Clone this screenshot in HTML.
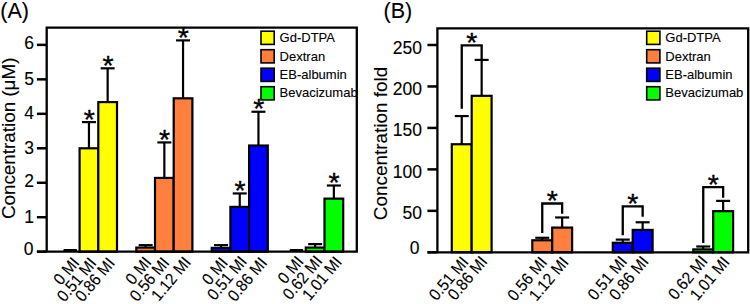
<!DOCTYPE html>
<html><head><meta charset="utf-8"><style>
html,body{margin:0;padding:0;background:#fff;width:750px;height:304px;overflow:hidden}
svg{display:block}
text{font-family:"Liberation Sans", sans-serif;fill:#000;stroke:#000;stroke-width:0.12px}
</style></head><body>
<svg width="750" height="304" viewBox="0 0 750 304">
<rect width="750" height="304" fill="#fff"/>
<line x1="36.9" y1="251.7" x2="46.7" y2="251.7" stroke="#000" stroke-width="2.5" stroke-linecap="butt"/>
<text x="33.5" y="254.9" font-size="17.5" text-anchor="end">0</text>
<line x1="36.9" y1="217.23" x2="46.7" y2="217.23" stroke="#000" stroke-width="2.5" stroke-linecap="butt"/>
<text x="34.0" y="223.43" font-size="17.5" text-anchor="end">1</text>
<line x1="36.9" y1="182.76" x2="46.7" y2="182.76" stroke="#000" stroke-width="2.5" stroke-linecap="butt"/>
<text x="34.0" y="187.46" font-size="17.5" text-anchor="end">2</text>
<line x1="36.9" y1="148.29" x2="46.7" y2="148.29" stroke="#000" stroke-width="2.5" stroke-linecap="butt"/>
<text x="34.0" y="153.99" font-size="17.5" text-anchor="end">3</text>
<line x1="36.9" y1="113.82" x2="46.7" y2="113.82" stroke="#000" stroke-width="2.5" stroke-linecap="butt"/>
<text x="34.0" y="119.02" font-size="17.5" text-anchor="end">4</text>
<line x1="36.9" y1="79.35" x2="46.7" y2="79.35" stroke="#000" stroke-width="2.5" stroke-linecap="butt"/>
<text x="34.0" y="85.05" font-size="17.5" text-anchor="end">5</text>
<line x1="36.9" y1="44.879999999999995" x2="46.7" y2="44.879999999999995" stroke="#000" stroke-width="2.5" stroke-linecap="butt"/>
<text x="34.0" y="49.08" font-size="17.5" text-anchor="end">6</text>
<text x="0.3" y="18.1" font-size="21.5" text-anchor="start">(A)</text>
<text x="0" y="0" font-size="18.5" textLength="161.5" lengthAdjust="spacingAndGlyphs" transform="translate(14.6 219.1) rotate(-90)">Concentration (&#956;M)</text>
<rect x="63.4" y="248.89999999999998" width="13.7" height="3" rx="1" fill="#000"/>
<line x1="88.94999999999999" y1="148.29" x2="88.94999999999999" y2="122.09280000000001" stroke="#000" stroke-width="2.2" stroke-linecap="butt"/>
<line x1="81.94999999999999" y1="122.09280000000001" x2="95.94999999999999" y2="122.09280000000001" stroke="#000" stroke-width="2.2" stroke-linecap="butt"/>
<rect x="79.6" y="148.29" width="18.7" height="103.41" fill="#ffff00" stroke="#000" stroke-width="2.2"/>
<text x="89.24999999999999" y="128.67" font-size="28.5" text-anchor="middle" style="stroke-width:0.35px">*</text>
<line x1="107.64999999999999" y1="102.1002" x2="107.64999999999999" y2="68.31959999999998" stroke="#000" stroke-width="2.2" stroke-linecap="butt"/>
<line x1="100.64999999999999" y1="68.31959999999998" x2="114.64999999999999" y2="68.31959999999998" stroke="#000" stroke-width="2.2" stroke-linecap="butt"/>
<rect x="98.3" y="102.1002" width="18.7" height="149.5998" fill="#ffff00" stroke="#000" stroke-width="2.2"/>
<text x="107.94999999999999" y="74.89" font-size="28.5" text-anchor="middle" style="stroke-width:0.35px">*</text>
<line x1="145.65" y1="247.56359999999998" x2="145.65" y2="245.1507" stroke="#000" stroke-width="2.2" stroke-linecap="butt"/>
<line x1="138.65" y1="245.1507" x2="152.65" y2="245.1507" stroke="#000" stroke-width="2.2" stroke-linecap="butt"/>
<rect x="136.3" y="247.56359999999998" width="18.7" height="4.136400000000009" fill="#ff7f3f" stroke="#000" stroke-width="2.2"/>
<line x1="164.35" y1="177.93419999999998" x2="164.35" y2="142.43009999999998" stroke="#000" stroke-width="2.2" stroke-linecap="butt"/>
<line x1="157.35" y1="142.43009999999998" x2="171.35" y2="142.43009999999998" stroke="#000" stroke-width="2.2" stroke-linecap="butt"/>
<rect x="155.0" y="177.93419999999998" width="18.7" height="73.76580000000001" fill="#ff7f3f" stroke="#000" stroke-width="2.2"/>
<text x="164.65" y="149.01" font-size="28.5" text-anchor="middle" style="stroke-width:0.35px">*</text>
<line x1="183.05" y1="98.30849999999998" x2="183.05" y2="40.3989" stroke="#000" stroke-width="2.2" stroke-linecap="butt"/>
<line x1="176.05" y1="40.3989" x2="190.05" y2="40.3989" stroke="#000" stroke-width="2.2" stroke-linecap="butt"/>
<rect x="173.70000000000002" y="98.30849999999998" width="18.7" height="153.3915" fill="#ff7f3f" stroke="#000" stroke-width="2.2"/>
<text x="183.35000000000002" y="46.97" font-size="28.5" text-anchor="middle" style="stroke-width:0.35px">*</text>
<line x1="221.05" y1="247.9083" x2="221.05" y2="245.1507" stroke="#000" stroke-width="2.2" stroke-linecap="butt"/>
<line x1="214.05" y1="245.1507" x2="228.05" y2="245.1507" stroke="#000" stroke-width="2.2" stroke-linecap="butt"/>
<rect x="211.70000000000002" y="247.9083" width="18.7" height="3.7916999999999916" fill="#0000ff" stroke="#000" stroke-width="2.2"/>
<line x1="239.75" y1="206.88899999999998" x2="239.75" y2="193.4457" stroke="#000" stroke-width="2.2" stroke-linecap="butt"/>
<line x1="232.75" y1="193.4457" x2="246.75" y2="193.4457" stroke="#000" stroke-width="2.2" stroke-linecap="butt"/>
<rect x="230.4" y="206.88899999999998" width="18.7" height="44.81100000000001" fill="#0000ff" stroke="#000" stroke-width="2.2"/>
<text x="240.05" y="200.02" font-size="28.5" text-anchor="middle" style="stroke-width:0.35px">*</text>
<line x1="258.45000000000005" y1="145.5324" x2="258.45000000000005" y2="111.7518" stroke="#000" stroke-width="2.2" stroke-linecap="butt"/>
<line x1="251.45000000000005" y1="111.7518" x2="265.45000000000005" y2="111.7518" stroke="#000" stroke-width="2.2" stroke-linecap="butt"/>
<rect x="249.10000000000002" y="145.5324" width="18.7" height="106.1676" fill="#0000ff" stroke="#000" stroke-width="2.2"/>
<text x="258.75000000000006" y="118.33" font-size="28.5" text-anchor="middle" style="stroke-width:0.35px">*</text>
<rect x="289.6" y="248.89999999999998" width="13.7" height="3" rx="1" fill="#000"/>
<line x1="315.15000000000003" y1="247.56359999999998" x2="315.15000000000003" y2="244.11659999999998" stroke="#000" stroke-width="2.2" stroke-linecap="butt"/>
<line x1="308.15000000000003" y1="244.11659999999998" x2="322.15000000000003" y2="244.11659999999998" stroke="#000" stroke-width="2.2" stroke-linecap="butt"/>
<rect x="305.8" y="247.56359999999998" width="18.7" height="4.136400000000009" fill="#00ff00" stroke="#000" stroke-width="2.2"/>
<line x1="333.85" y1="198.6162" x2="333.85" y2="185.5176" stroke="#000" stroke-width="2.2" stroke-linecap="butt"/>
<line x1="326.85" y1="185.5176" x2="340.85" y2="185.5176" stroke="#000" stroke-width="2.2" stroke-linecap="butt"/>
<rect x="324.5" y="198.6162" width="18.7" height="53.0838" fill="#00ff00" stroke="#000" stroke-width="2.2"/>
<text x="334.15000000000003" y="192.09" font-size="28.5" text-anchor="middle" style="stroke-width:0.35px">*</text>
<path d="M46.7 251.7 V27.6 H356.8 V251.7 H36.900000000000006" fill="none" stroke="#000" stroke-width="2.3" stroke-linejoin="miter"/>
<rect x="261.0" y="31.2" width="13.2" height="13.2" fill="#ffff00" stroke="#000" stroke-width="1.6"/>
<text x="279.6" y="42.3" font-size="13.0" text-anchor="start" stroke="#000" stroke-width="0.15">Gd-DTPA</text>
<rect x="261.0" y="49.7" width="13.2" height="13.2" fill="#ff7f3f" stroke="#000" stroke-width="1.6"/>
<text x="279.6" y="60.6" font-size="13.0" text-anchor="start" stroke="#000" stroke-width="0.15">Dextran</text>
<rect x="261.0" y="68.2" width="13.2" height="13.2" fill="#0000ff" stroke="#000" stroke-width="1.6"/>
<text x="279.6" y="78.9" font-size="13.0" text-anchor="start" stroke="#000" stroke-width="0.15">EB-albumin</text>
<rect x="261.0" y="86.7" width="13.2" height="13.2" fill="#00ff00" stroke="#000" stroke-width="1.6"/>
<text x="279.6" y="97.2" font-size="13.0" text-anchor="start" stroke="#000" stroke-width="0.15">Bevacizumab</text>
<text x="80.25" y="263.2" font-size="16.5" text-anchor="end" textLength="29.84" lengthAdjust="spacingAndGlyphs" transform="rotate(-50 80.25 263.2)">0 MI</text>
<text x="97.35" y="263.6" font-size="16.5" text-anchor="end" textLength="51.18" lengthAdjust="spacingAndGlyphs" transform="rotate(-50 97.35 263.6)">0.51 MI</text>
<text x="115.65" y="263.6" font-size="16.5" text-anchor="end" textLength="51.18" lengthAdjust="spacingAndGlyphs" transform="rotate(-50 115.65 263.6)">0.86 MI</text>
<text x="152.25" y="262.8" font-size="16.5" text-anchor="end" textLength="29.84" lengthAdjust="spacingAndGlyphs" transform="rotate(-50 152.25 262.8)">0 MI</text>
<text x="170.15" y="263.2" font-size="16.5" text-anchor="end" textLength="51.18" lengthAdjust="spacingAndGlyphs" transform="rotate(-50 170.15 263.2)">0.56 MI</text>
<text x="191.65" y="262.8" font-size="16.5" text-anchor="end" textLength="51.18" lengthAdjust="spacingAndGlyphs" transform="rotate(-50 191.65 262.8)">1.12 MI</text>
<text x="228.65" y="263.2" font-size="16.5" text-anchor="end" textLength="29.84" lengthAdjust="spacingAndGlyphs" transform="rotate(-50 228.65 263.2)">0 MI</text>
<text x="247.75" y="262.0" font-size="16.5" text-anchor="end" textLength="51.18" lengthAdjust="spacingAndGlyphs" transform="rotate(-50 247.75 262.0)">0.51 MI</text>
<text x="268.05" y="263.2" font-size="16.5" text-anchor="end" textLength="51.18" lengthAdjust="spacingAndGlyphs" transform="rotate(-50 268.05 263.2)">0.86 MI</text>
<text x="304.45" y="262.0" font-size="16.5" text-anchor="end" textLength="29.84" lengthAdjust="spacingAndGlyphs" transform="rotate(-50 304.45 262.0)">0 MI</text>
<text x="323.15" y="261.6" font-size="16.5" text-anchor="end" textLength="51.18" lengthAdjust="spacingAndGlyphs" transform="rotate(-50 323.15 261.6)">0.62 MI</text>
<text x="342.65" y="262.4" font-size="16.5" text-anchor="end" textLength="51.18" lengthAdjust="spacingAndGlyphs" transform="rotate(-50 342.65 262.4)">1.01 MI</text>
<line x1="427.4" y1="252.3" x2="437.4" y2="252.3" stroke="#000" stroke-width="2.5" stroke-linecap="butt"/>
<text x="419.5" y="254.3" font-size="17.5" text-anchor="end">0</text>
<line x1="427.4" y1="210.84" x2="437.4" y2="210.84" stroke="#000" stroke-width="2.5" stroke-linecap="butt"/>
<text x="422.0" y="219.34" font-size="17.5" text-anchor="end">50</text>
<line x1="427.4" y1="169.38" x2="437.4" y2="169.38" stroke="#000" stroke-width="2.5" stroke-linecap="butt"/>
<text x="422.0" y="177.88" font-size="17.5" text-anchor="end">100</text>
<line x1="427.4" y1="127.92" x2="437.4" y2="127.92" stroke="#000" stroke-width="2.5" stroke-linecap="butt"/>
<text x="422.0" y="136.42" font-size="17.5" text-anchor="end">150</text>
<line x1="427.4" y1="86.46000000000001" x2="437.4" y2="86.46000000000001" stroke="#000" stroke-width="2.5" stroke-linecap="butt"/>
<text x="422.0" y="94.96" font-size="17.5" text-anchor="end">200</text>
<line x1="427.4" y1="45.0" x2="437.4" y2="45.0" stroke="#000" stroke-width="2.5" stroke-linecap="butt"/>
<text x="422.0" y="53.5" font-size="17.5" text-anchor="end">250</text>
<text x="383.6" y="18.1" font-size="21.5" text-anchor="start">(B)</text>
<text x="0" y="0" font-size="18.5" textLength="153.4" lengthAdjust="spacingAndGlyphs" transform="translate(386.6 220.2) rotate(-90)">Concentration fold</text>
<line x1="461.75" y1="144.25524000000001" x2="461.75" y2="116.06243999999998" stroke="#000" stroke-width="2.2" stroke-linecap="butt"/>
<line x1="454.75" y1="116.06243999999998" x2="468.75" y2="116.06243999999998" stroke="#000" stroke-width="2.2" stroke-linecap="butt"/>
<rect x="451.8" y="144.25524000000001" width="19.9" height="108.04476" fill="#ffff00" stroke="#000" stroke-width="2.2"/>
<line x1="481.65" y1="95.82996" x2="481.65" y2="59.9256" stroke="#000" stroke-width="2.2" stroke-linecap="butt"/>
<line x1="474.65" y1="59.9256" x2="488.65" y2="59.9256" stroke="#000" stroke-width="2.2" stroke-linecap="butt"/>
<rect x="471.7" y="95.82996" width="19.9" height="156.47004" fill="#ffff00" stroke="#000" stroke-width="2.2"/>
<path d="M461.75 108.66 V45.4 H481.65 V59.43" fill="none" stroke="#000" stroke-width="2.3"/>
<text x="471.7" y="51.88" font-size="28.5" text-anchor="middle" style="stroke-width:0.35px">*</text>
<line x1="542.25" y1="240.2766" x2="542.25" y2="237.78900000000002" stroke="#000" stroke-width="2.2" stroke-linecap="butt"/>
<line x1="535.25" y1="237.78900000000002" x2="549.25" y2="237.78900000000002" stroke="#000" stroke-width="2.2" stroke-linecap="butt"/>
<rect x="532.3" y="240.2766" width="19.9" height="12.02340000000001" fill="#ff7f3f" stroke="#000" stroke-width="2.2"/>
<line x1="562.15" y1="227.58984" x2="562.15" y2="217.4736" stroke="#000" stroke-width="2.2" stroke-linecap="butt"/>
<line x1="555.15" y1="217.4736" x2="569.15" y2="217.4736" stroke="#000" stroke-width="2.2" stroke-linecap="butt"/>
<rect x="552.1999999999999" y="227.58984" width="19.9" height="24.710160000000002" fill="#ff7f3f" stroke="#000" stroke-width="2.2"/>
<path d="M542.25 232.99 V203.5 H562.15 V213.77" fill="none" stroke="#000" stroke-width="2.3"/>
<text x="552.2" y="209.97" font-size="28.5" text-anchor="middle" style="stroke-width:0.35px">*</text>
<line x1="622.75" y1="242.76420000000002" x2="622.75" y2="239.61324000000002" stroke="#000" stroke-width="2.2" stroke-linecap="butt"/>
<line x1="615.75" y1="239.61324000000002" x2="629.75" y2="239.61324000000002" stroke="#000" stroke-width="2.2" stroke-linecap="butt"/>
<rect x="612.8" y="242.76420000000002" width="19.9" height="9.535799999999995" fill="#0000ff" stroke="#000" stroke-width="2.2"/>
<line x1="642.65" y1="229.91160000000002" x2="642.65" y2="222.28296" stroke="#000" stroke-width="2.2" stroke-linecap="butt"/>
<line x1="635.65" y1="222.28296" x2="649.65" y2="222.28296" stroke="#000" stroke-width="2.2" stroke-linecap="butt"/>
<rect x="632.6999999999999" y="229.91160000000002" width="19.9" height="22.38839999999999" fill="#0000ff" stroke="#000" stroke-width="2.2"/>
<path d="M622.75 235.31 V206.3 H642.65 V216.78" fill="none" stroke="#000" stroke-width="2.3"/>
<text x="632.7" y="212.78" font-size="28.5" text-anchor="middle" style="stroke-width:0.35px">*</text>
<line x1="703.25" y1="249.39780000000002" x2="703.25" y2="246.49560000000002" stroke="#000" stroke-width="2.2" stroke-linecap="butt"/>
<line x1="696.25" y1="246.49560000000002" x2="710.25" y2="246.49560000000002" stroke="#000" stroke-width="2.2" stroke-linecap="butt"/>
<rect x="693.3" y="249.39780000000002" width="19.9" height="2.9021999999999935" fill="#00ff00" stroke="#000" stroke-width="2.2"/>
<line x1="723.15" y1="211.17168" x2="723.15" y2="200.8896" stroke="#000" stroke-width="2.2" stroke-linecap="butt"/>
<line x1="716.15" y1="200.8896" x2="730.15" y2="200.8896" stroke="#000" stroke-width="2.2" stroke-linecap="butt"/>
<rect x="713.1999999999999" y="211.17168" width="19.9" height="41.12832" fill="#00ff00" stroke="#000" stroke-width="2.2"/>
<path d="M703.25 242.9 V187.2 H723.15 V197.69" fill="none" stroke="#000" stroke-width="2.3"/>
<text x="713.2" y="193.67" font-size="28.5" text-anchor="middle" style="stroke-width:0.35px">*</text>
<path d="M437.4 252.3 V28.4 H748.2 V252.3 H427.59999999999997" fill="none" stroke="#000" stroke-width="2.3"/>
<rect x="646.6999999999999" y="31.2" width="13.2" height="13.2" fill="#ffff00" stroke="#000" stroke-width="1.6"/>
<text x="665.3" y="42.3" font-size="13.0" text-anchor="start" stroke="#000" stroke-width="0.15">Gd-DTPA</text>
<rect x="646.6999999999999" y="49.7" width="13.2" height="13.2" fill="#ff7f3f" stroke="#000" stroke-width="1.6"/>
<text x="665.3" y="60.6" font-size="13.0" text-anchor="start" stroke="#000" stroke-width="0.15">Dextran</text>
<rect x="646.6999999999999" y="68.2" width="13.2" height="13.2" fill="#0000ff" stroke="#000" stroke-width="1.6"/>
<text x="665.3" y="78.9" font-size="13.0" text-anchor="start" stroke="#000" stroke-width="0.15">EB-albumin</text>
<rect x="646.6999999999999" y="86.7" width="13.2" height="13.2" fill="#00ff00" stroke="#000" stroke-width="1.6"/>
<text x="665.3" y="97.2" font-size="13.0" text-anchor="start" stroke="#000" stroke-width="0.15">Bevacizumab</text>
<text x="469.45" y="262.4" font-size="16.5" text-anchor="end" textLength="51.18" lengthAdjust="spacingAndGlyphs" transform="rotate(-50 469.45 262.4)">0.51 MI</text>
<text x="488.15" y="262.0" font-size="16.5" text-anchor="end" textLength="51.18" lengthAdjust="spacingAndGlyphs" transform="rotate(-50 488.15 262.0)">0.86 MI</text>
<text x="547.95" y="262.8" font-size="16.5" text-anchor="end" textLength="51.18" lengthAdjust="spacingAndGlyphs" transform="rotate(-50 547.95 262.8)">0.56 MI</text>
<text x="569.45" y="262.8" font-size="16.5" text-anchor="end" textLength="51.18" lengthAdjust="spacingAndGlyphs" transform="rotate(-50 569.45 262.8)">1.12 MI</text>
<text x="628.05" y="262.0" font-size="16.5" text-anchor="end" textLength="51.18" lengthAdjust="spacingAndGlyphs" transform="rotate(-50 628.05 262.0)">0.51 MI</text>
<text x="649.55" y="262.0" font-size="16.5" text-anchor="end" textLength="51.18" lengthAdjust="spacingAndGlyphs" transform="rotate(-50 649.55 262.0)">0.86 MI</text>
<text x="708.55" y="261.6" font-size="16.5" text-anchor="end" textLength="51.18" lengthAdjust="spacingAndGlyphs" transform="rotate(-50 708.55 261.6)">0.62 MI</text>
<text x="730.45" y="262.4" font-size="16.5" text-anchor="end" textLength="51.18" lengthAdjust="spacingAndGlyphs" transform="rotate(-50 730.45 262.4)">1.01 MI</text>
</svg>
</body></html>
